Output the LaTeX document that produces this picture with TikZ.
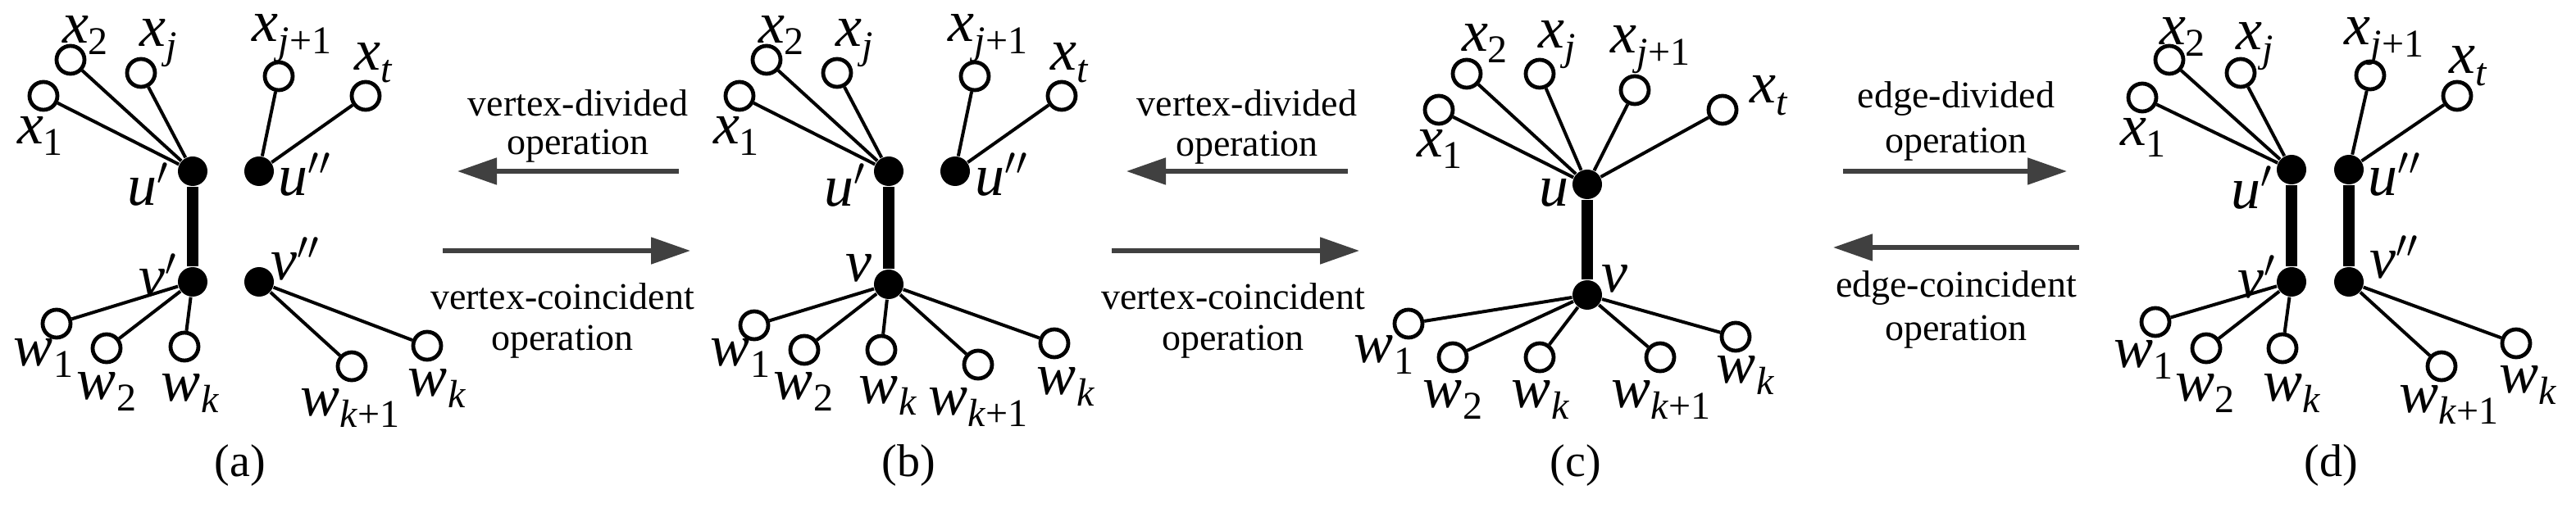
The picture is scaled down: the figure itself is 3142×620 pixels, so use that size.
\documentclass[tikz,border=0pt]{standalone}
\usepackage{fontspec}
\setmainfont{Liberation Serif}
\usetikzlibrary{arrows.meta}
\definecolor{arr}{HTML}{404040}
\newcommand{\lb}[2]{\textit{#1}\raisebox{-0.45ex}{\fontsize{12}{12}\selectfont #2}}
\newcommand{\li}{\textit}
\begin{document}
\begin{tikzpicture}[x=0.25pt,y=-0.25pt,
  op/.style={circle,draw,line width=1.2pt,fill=white,minimum size=8.5pt,inner sep=0pt},
  dot/.style={circle,fill,minimum size=9pt,inner sep=0pt},
  lab/.style={font=\fontsize{18}{18}\selectfont,inner sep=0pt},
  txt/.style={font=\fontsize{11.5}{11.5}\selectfont,inner sep=0pt},
  capt/.style={font=\fontsize{14}{14}\selectfont,inner sep=0pt},
  e/.style={line width=1pt},
  te/.style={line width=3.6pt},
  ar/.style={draw=arr,line width=1.3pt,-{Triangle[length=12pt,width=8pt]}}]
\useasboundingbox (0,0) rectangle (3142,620);
% ---------- (a)
\node[dot] (au1) at (235,209) {};
\node[dot] (av1) at (235,344) {};
\node[dot] (au2) at (316,209) {};
\node[dot] (av2) at (316,344) {};
\node[op] (ax1) at (53,117) {};
\node[op] (ax2) at (86,73) {};
\node[op] (axj) at (172,89) {};
\node[op] (axj1) at (340,93) {};
\node[op] (axt) at (446,117) {};
\node[op] (aw1) at (69,395) {};
\node[op] (aw2) at (130,425) {};
\node[op] (awk) at (225,423) {};
\node[op] (awk1) at (429,447) {};
\node[op] (awk2) at (521,422) {};
\draw[te] (au1)--(av1);
\foreach \t in {ax1,ax2,axj} \draw[e] (au1)--(\t);
\foreach \t in {axj1,axt} \draw[e] (au2)--(\t);
\foreach \t in {aw1,aw2,awk} \draw[e] (av1)--(\t);
\foreach \t in {awk1,awk2} \draw[e] (av2)--(\t);
\node[lab] (lax1) at (49,166) {\lb{x}{1}};
\node[lab] (lax2) at (104,43) {\lb{x}{2}};
\node[lab] (laxj) at (193,53) {\lb{x}{\textit{j}}};
\node[lab] (laxj1) at (356,47) {\lb{x}{\textit{j}+1}};
\node[lab] (laxt) at (456,77) {\lb{x}{\textit{t}}};
\node[lab] (lau1) at (181,225) {\li{u}$'$};
\node[lab] (lau2) at (372,213) {\li{u}$''$};
\node[lab] (lav1) at (193,336) {\li{v}$'$};
\node[lab] (lav2) at (361,316) {\li{v}$''$};
\node[lab] (law1) at (53,437) {\lb{w}{1}};
\node[lab] (law2) at (130,478) {\lb{w}{2}};
\node[lab] (lawk) at (232,480) {\lb{w}{\textit{k}}};
\node[lab] (lawk1) at (427,498) {\lb{w}{\textit{k}+1}};
\node[lab] (lawk2) at (533,474) {\lb{w}{\textit{k}}};
\node[capt] (capa) at (293,568) {(a)};
% arrows a-b
\coordinate (ab1s) at (828,209); \coordinate (ab1e) at (558,209);
\coordinate (ab2s) at (540,306); \coordinate (ab2e) at (842,306);
\draw[ar] (ab1s)--(ab1e);
\draw[ar] (ab2s)--(ab2e);
\node[txt] (tab1) at (705,126) {vertex-divided};
\node[txt] (tab2) at (705,178) {operation};
\node[txt] (tab3) at (686,362) {vertex-coincident};
\node[txt] (tab4) at (686,417) {operation};
% ---------- (b)
\node[dot] (bu1) at (1084,209) {};
\node[dot] (bv) at (1084,347) {};
\node[dot] (bu2) at (1165,209) {};
\node[op] (bx1) at (902,117) {};
\node[op] (bx2) at (935,73) {};
\node[op] (bxj) at (1021,89) {};
\node[op] (bxj1) at (1189,93) {};
\node[op] (bxt) at (1295,117) {};
\node[op] (bw1) at (920,397) {};
\node[op] (bw2) at (981,427) {};
\node[op] (bwk) at (1075,427) {};
\node[op] (bwk1) at (1193,445) {};
\node[op] (bwk2) at (1286,419) {};
\draw[te] (bu1)--(bv);
\foreach \t in {bx1,bx2,bxj} \draw[e] (bu1)--(\t);
\foreach \t in {bxj1,bxt} \draw[e] (bu2)--(\t);
\foreach \t in {bw1,bw2,bwk,bwk1,bwk2} \draw[e] (bv)--(\t);
\node[lab] (lbx1) at (898,166) {\lb{x}{1}};
\node[lab] (lbx2) at (953,43) {\lb{x}{2}};
\node[lab] (lbxj) at (1042,53) {\lb{x}{\textit{j}}};
\node[lab] (lbxj1) at (1205,47) {\lb{x}{\textit{j}+1}};
\node[lab] (lbxt) at (1305,77) {\lb{x}{\textit{t}}};
\node[lab] (lbu1) at (1031,226) {\li{u}$'$};
\node[lab] (lbu2) at (1222,213) {\li{u}$''$};
\node[lab] (lbv) at (1047,327) {\li{v}};
\node[lab] (lbw1) at (903,437) {\lb{w}{1}};
\node[lab] (lbw2) at (980,478) {\lb{w}{2}};
\node[lab] (lbwk) at (1083,483) {\lb{w}{\textit{k}}};
\node[lab] (lbwk1) at (1193,497) {\lb{w}{\textit{k}+1}};
\node[lab] (lbwk2) at (1300,472) {\lb{w}{\textit{k}}};
\node[capt] (capb) at (1108,568) {(b)};
% arrows b-c
\coordinate (bc1s) at (1644,209); \coordinate (bc1e) at (1374,209);
\coordinate (bc2s) at (1356,306); \coordinate (bc2e) at (1658,306);
\draw[ar] (bc1s)--(bc1e);
\draw[ar] (bc2s)--(bc2e);
\node[txt] (tbc1) at (1521,126) {vertex-divided};
\node[txt] (tbc2) at (1521,180) {operation};
\node[txt] (tbc3) at (1504,362) {vertex-coincident};
\node[txt] (tbc4) at (1504,417) {operation};
% ---------- (c)
\node[dot] (cu) at (1936,225) {};
\node[dot] (cv) at (1936,360) {};
\node[op] (cx1) at (1755,134) {};
\node[op] (cx2) at (1789,90) {};
\node[op] (cxj) at (1878,90) {};
\node[op] (cxj1) at (1994,110) {};
\node[op] (cxt) at (2101,134) {};
\node[op] (cw1) at (1718,395) {};
\node[op] (cw2) at (1772,436) {};
\node[op] (cwk) at (1878,436) {};
\node[op] (cwk1) at (2025,436) {};
\node[op] (cwk2) at (2117,411) {};
\draw[te] (cu)--(cv);
\foreach \t in {cx1,cx2,cxj,cxj1,cxt} \draw[e] (cu)--(\t);
\foreach \t in {cw1,cw2,cwk,cwk1,cwk2} \draw[e] (cv)--(\t);
\node[lab] (lcx1) at (1756,182) {\lb{x}{1}};
\node[lab] (lcx2) at (1811,53) {\lb{x}{2}};
\node[lab] (lcxj) at (1899,55) {\lb{x}{\textit{j}}};
\node[lab] (lcxj1) at (2013,61) {\lb{x}{\textit{j}+1}};
\node[lab] (lcxt) at (2158,117) {\lb{x}{\textit{t}}};
\node[lab] (lcu) at (1895,235) {\li{u}};
\node[lab] (lcv) at (1969,340) {\li{v}};
\node[lab] (lcw1) at (1688,433) {\lb{w}{1}};
\node[lab] (lcw2) at (1772,488) {\lb{w}{2}};
\node[lab] (lcwk) at (1879,488) {\lb{w}{\textit{k}}};
\node[lab] (lcwk1) at (2026,488) {\lb{w}{\textit{k}+1}};
\node[lab] (lcwk2) at (2129,458) {\lb{w}{\textit{k}}};
\node[capt] (capc) at (1922,568) {(c)};
% arrows c-d
\coordinate (cd1s) at (2248,209); \coordinate (cd1e) at (2521,209);
\coordinate (cd2s) at (2536,302); \coordinate (cd2e) at (2236,302);
\draw[ar] (cd1s)--(cd1e);
\draw[ar] (cd2s)--(cd2e);
\node[txt] (tcd1) at (2386,121) {edge-divided};
\node[txt] (tcd2) at (2386,176) {operation};
\node[txt] (tcd3) at (2386,352) {edge-coincident};
\node[txt] (tcd4) at (2386,405) {operation};
% ---------- (d)
\node[dot] (du1) at (2795,207) {};
\node[dot] (dv1) at (2795,344) {};
\node[dot] (du2) at (2865,207) {};
\node[dot] (dv2) at (2865,344) {};
\node[op] (dx1) at (2613,119) {};
\node[op] (dx2) at (2646,73) {};
\node[op] (dxj) at (2733,89) {};
\node[op] (dxj1) at (2891,92) {};
\node[op] (dxt) at (2997,117) {};
\node[op] (dw1) at (2629,393) {};
\node[op] (dw2) at (2691,425) {};
\node[op] (dwk) at (2784,425) {};
\node[op] (dwk1) at (2978,447) {};
\node[op] (dwk2) at (3069,419) {};
\draw[te] (du1)--(dv1);
\draw[te] (du2)--(dv2);
\foreach \t in {dx1,dx2,dxj} \draw[e] (du1)--(\t);
\foreach \t in {dxj1,dxt} \draw[e] (du2)--(\t);
\foreach \t in {dw1,dw2,dwk} \draw[e] (dv1)--(\t);
\foreach \t in {dwk1,dwk2} \draw[e] (dv2)--(\t);
\node[lab] (ldx1) at (2614,168) {\lb{x}{1}};
\node[lab] (ldx2) at (2662,45) {\lb{x}{2}};
\node[lab] (ldxj) at (2750,57) {\lb{x}{\textit{j}}};
\node[lab] (ldxj1) at (2908,51) {\lb{x}{\textit{j}+1}};
\node[lab] (ldxt) at (3011,81) {\lb{x}{\textit{t}}};
\node[lab] (ldu1) at (2747,229) {\li{u}$'$};
\node[lab] (ldu2) at (2921,213) {\li{u}$''$};
\node[lab] (ldv1) at (2753,338) {\li{v}$'$};
\node[lab] (ldv2) at (2921,314) {\li{v}$''$};
\node[lab] (ldw1) at (2614,439) {\lb{w}{1}};
\node[lab] (ldw2) at (2689,480) {\lb{w}{2}};
\node[lab] (ldwk) at (2795,480) {\lb{w}{\textit{k}}};
\node[lab] (ldwk1) at (2987,494) {\lb{w}{\textit{k}+1}};
\node[lab] (ldwk2) at (3083,470) {\lb{w}{\textit{k}}};
\node[capt] (capd) at (2843,568) {(d)};
\end{tikzpicture}
\end{document}
